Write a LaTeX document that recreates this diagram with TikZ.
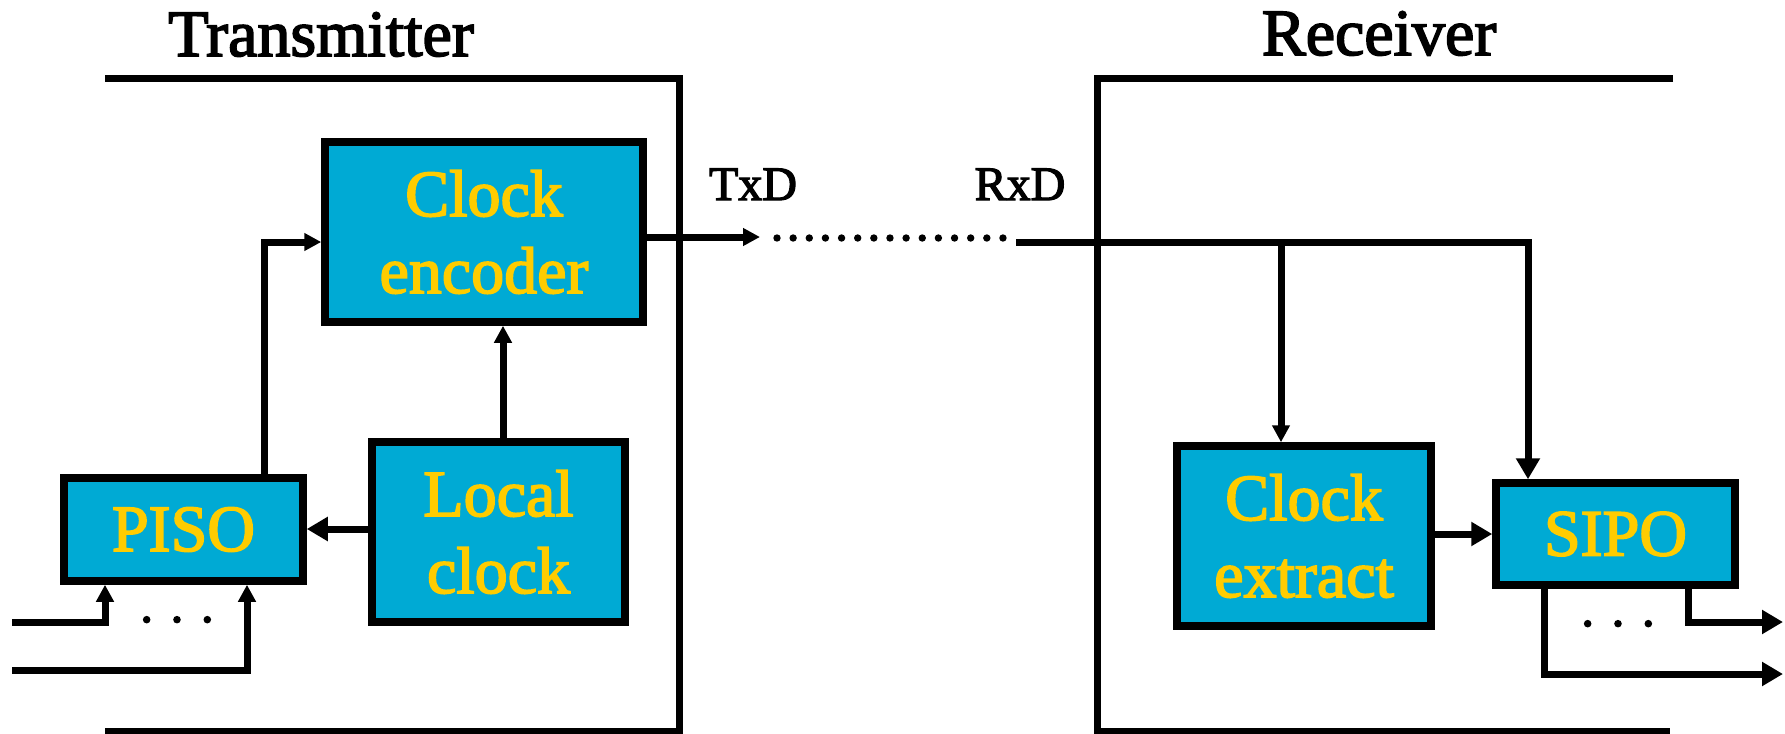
\documentclass[tikz,border=0pt]{standalone}
\usepackage{fontspec}
\setmainfont{Liberation Serif}[FakeBold=2.5]
\usetikzlibrary{arrows.meta}

\definecolor{boxblue}{RGB}{0,170,212}
\definecolor{boxtext}{RGB}{255,204,0}

\tikzset{
  block/.style={draw=black, line width=3.75pt, fill=boxblue, text=boxtext,
    font=\fontsize{33}{38.5}\selectfont, align=center, inner sep=0pt},
  wire/.style={line width=3.5pt},
  arr/.style={wire, -{Triangle[length=8.5pt,width=8.5pt]}},
  bigarr/.style={wire, -{Triangle[length=10.5pt,width=11.5pt]}},
  frame/.style={line width=3.5pt, line join=miter},
  title/.style={font=\fontsize{33}{38}\selectfont, anchor=base},
  signame/.style={font=\fontsize{24}{28}\selectfont, anchor=base},
  ellip/.style={font=\fontsize{26}{28}\selectfont, anchor=base, inner sep=0pt},
  link/.style={line width=3.7pt, line cap=round, dash pattern=on 0pt off 8.07pt}
}

\begin{document}
\begin{tikzpicture}[x=0.5pt, y=-0.5pt]
\useasboundingbox (0,0) rectangle (1785,734);

% enclosures
\draw[frame] (105,78) -- (679,78) -- (679,731) -- (105,731);
\draw[frame] (1673,78) -- (1097,78) -- (1097,731) -- (1670,731);
\node[title] (txtitle) at (321,56) {Transmitter};
\node[title] (rxtitle) at (1379,55) {Receiver};

% transmitter blocks
\node[block, minimum width=159pt, minimum height=90pt] (enc) at (484,232) {Clock\\encoder};
\node[block, minimum width=126.5pt, minimum height=90pt] (loc) at (498.5,532) {Local\\clock};
\node[block, minimum width=119.5pt, minimum height=51.5pt] (piso) at (183.5,529.5) {PISO};

% receiver blocks
\node[block, minimum width=127pt, minimum height=90pt] (ext) at (1304,536) {Clock\\extract};
\node[block, minimum width=119.5pt, minimum height=51pt] (sipo) at (1615.5,534) {SIPO};

% transmitter wiring
\coordinate (pisoup) at (264,242);
\draw[arr] (piso.north -| pisoup) -- (pisoup) -- (enc.west |- pisoup);
\coordinate (clkup) at (503,300);
\draw[arr] (loc.north -| clkup) -- (enc.south -| clkup);
\draw[bigarr] (loc.west |- 0,529) -- (piso.east |- 0,529);

\coordinate (in1) at (12,622);
\coordinate (in1x) at (105,622);
\coordinate (in2) at (12,670);
\coordinate (in2x) at (247,670);
\draw[arr] (in1) -- (in1x) -- (piso.south -| in1x);
\draw[arr] (in2) -- (in2x) -- (piso.south -| in2x);
\node[ellip] (indots) at (177,622) {. . .};

% line between the two ends
\coordinate (txd) at (760,237);
\draw[arr] (enc.east |- txd) -- (txd);
\node[signame] (txdlab) at (753,200) {TxD};
\coordinate (dotsA) at (777,238);
\coordinate (dotsB) at (1003,238);
\draw[link] (dotsA) -- (dotsB);
\node[signame] (rxdlab) at (1020,200) {RxD};

% receiver wiring
\coordinate (rxd) at (1016,242);
\coordinate (rxcorner) at (1528,242);
\coordinate (rxbranch) at (1281,242);
\draw[bigarr] (rxd) -- (rxcorner) -- (sipo.north -| rxcorner);
\draw[arr] (rxbranch) -- (ext.north -| rxbranch);
\draw[bigarr] (ext.east |- sipo.west) -- (sipo.west);

\coordinate (out1x) at (1688,622);
\coordinate (out1) at (1783,622);
\coordinate (out2x) at (1544,674);
\coordinate (out2) at (1783,674);
\draw[bigarr] (sipo.south -| out1x) -- (out1x) -- (out1);
\draw[bigarr] (sipo.south -| out2x) -- (out2x) -- (out2);
\node[ellip] (outdots) at (1618,626) {. . .};
\end{tikzpicture}
\end{document}
